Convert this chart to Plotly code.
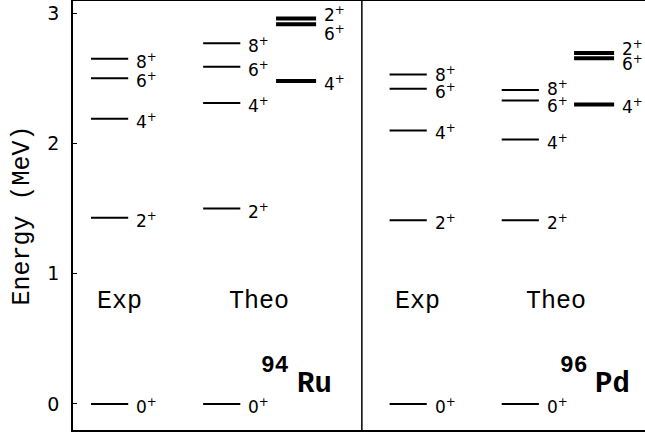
import plotly.graph_objects as go

# level energies (MeV), spins 0,2,4,6,8
spins = [0, 2, 4, 6, 8]
ru_exp = [0.0, 1.43, 2.19, 2.50, 2.65]
ru_theo = [0.0, 1.50, 2.31, 2.59, 2.77]
pd_exp = [0.0, 1.41, 2.10, 2.42, 2.53]
pd_theo = [0.0, 1.41, 2.03, 2.33, 2.41]
# second (thick) band, spins 2,4,6
band_spins = [2, 4, 6]
ru_band = [2.96, 2.48, 2.915]
pd_band = [2.695, 2.30, 2.655]

# column centres on the x axis (0..10)
columns = [
    ("ru_exp", 0.64, spins, ru_exp, False),
    ("ru_theo", 2.60, spins, ru_theo, False),
    ("ru_band", 3.90, band_spins, ru_band, True),
    ("pd_exp", 5.86, spins, pd_exp, False),
    ("pd_theo", 7.82, spins, pd_theo, False),
    ("pd_band", 9.11, band_spins, pd_band, True),
]

# small vertical nudges for crowded labels (px, positive = up)
label_shift = {
    ("ru_band", 2): 6, ("ru_band", 6): -7,
    ("pd_band", 2): 7, ("pd_band", 6): -3,
    ("pd_exp", 8): 2, ("pd_theo", 8): 4, ("pd_theo", 6): -2,
}

label_font = dict(family="DejaVu Sans", size=17, color="black")
mono = "Liberation Mono, Courier New, monospace"

fig = go.Figure()
annotations = []

for name, xc, sp, en, thick in columns:
    hw = 0.35 if thick else 0.325
    xs, ys = [], []
    for e in en:
        xs += [xc - hw, xc + hw, None]
        ys += [e, e, None]
    fig.add_trace(go.Scatter(
        x=xs, y=ys, mode="lines",
        line=dict(color="black", width=4 if thick else 2),
        hoverinfo="skip", showlegend=False,
    ))
    for s, e in zip(sp, en):
        annotations.append(dict(
            x=xc + hw, y=e, xref="x", yref="y",
            text=f"{s}<sup>+</sup>", showarrow=False,
            xanchor="left", yanchor="middle", xshift=6,
            yshift=label_shift.get((name, s), 0) - 2,
            font=label_font,
        ))

# divider between the two nuclei
fig.add_shape(type="line", xref="x", yref="paper", x0=5.05, x1=5.05, y0=0, y1=1,
              line=dict(color="black", width=1.5))

for txt, x in [("Exp", 0.81), ("Theo", 3.25), ("Exp", 6.02), ("Theo", 8.44)]:
    annotations.append(dict(x=x, y=0.79, xref="x", yref="y", text=txt, showarrow=False,
                            font=dict(family=mono, size=25, color="black")))

for mass, sym, xm, xs in [("94", "Ru", 3.54, 4.23), ("96", "Pd", 8.75, 9.43)]:
    annotations.append(dict(x=xm, y=0.293, xref="x", yref="y", text=f"<b>{mass}</b>",
                            showarrow=False, font=dict(family=mono, size=23, color="black")))
    annotations.append(dict(x=xs, y=0.148, xref="x", yref="y", text=f"<b>{sym}</b>",
                            showarrow=False, font=dict(family=mono, size=29, color="black")))

annotations.append(dict(x=-0.089, y=0.5, xref="paper", yref="paper", text="Energy (MeV)",
                        textangle=-90, showarrow=False, xanchor="center", yanchor="middle",
                        font=dict(family=mono, size=25, color="black")))

fig.update_layout(
    width=645, height=432,
    margin=dict(l=73, r=0, t=1, b=2),
    plot_bgcolor="white", paper_bgcolor="white",
    annotations=annotations,
    xaxis=dict(range=[0, 10], showgrid=False, zeroline=False, showticklabels=False,
               ticks="", showline=True, mirror=True, linecolor="black", linewidth=1.5,
               automargin=False),
    yaxis=dict(range=[-0.2, 3.094], tickvals=[0, 1, 2, 3], ticks="inside", ticklen=4,
               tickcolor="black", showgrid=False, zeroline=False, showline=True,
               linecolor="black", linewidth=1.5, ticklabelstandoff=8, automargin=False,
               tickfont=dict(family="DejaVu Sans", size=19, color="black")),
)

# drop the default page margin so the figure sits at the window's corner
fig.write_html("out.html", config={"displayModeBar": False},
               post_script="document.body.style.margin='0';document.body.style.overflow='hidden';")
